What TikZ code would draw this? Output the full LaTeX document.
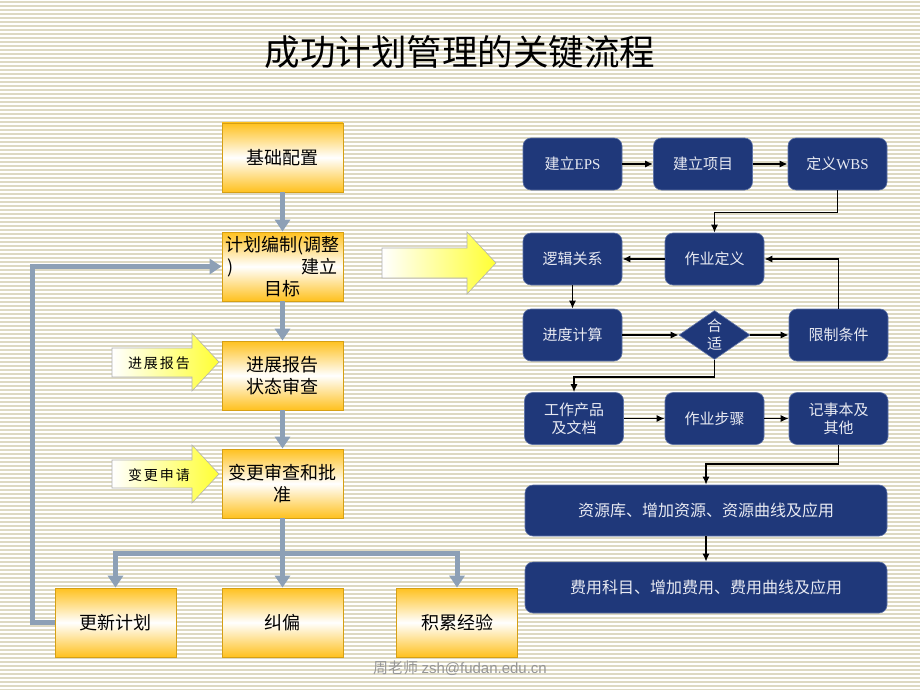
\documentclass[tikz,border=0pt]{standalone}
\usepackage{fontspec}
\setmainfont{Noto Sans CJK SC}
\newfontfamily\latserif{Liberation Serif}
\newfontfamily\latsans{Liberation Sans}
\usetikzlibrary{arrows.meta,shapes.geometric}

\definecolor{stripe}{RGB}{221,217,195}
\definecolor{gold}{RGB}{255,193,30}
\definecolor{goldline}{RGB}{214,160,20}
\definecolor{flowgray}{RGB}{141,160,182}
\definecolor{navy}{RGB}{31,56,122}
\definecolor{navyline}{RGB}{95,115,165}
\definecolor{boxtext}{RGB}{232,234,242}
\definecolor{arrowyellow}{RGB}{255,255,51}
\definecolor{footgray}{RGB}{150,150,150}

\newcommand{\chargap}{\hspace{2pt}}

\begin{document}
\begin{tikzpicture}[x=1pt, y=-1pt,
        goldbox/.style={rectangle, draw=goldline, line width=0.8pt,
            top color=gold, bottom color=gold, middle color=white,
            minimum width=121pt, minimum height=69pt, text width=115pt,
            inner xsep=3pt, align=center, font=\fontsize{18}{22}\selectfont},
        navybox/.style={rectangle, rounded corners=8pt, draw=navyline, line width=0.6pt,
            fill=navy, text=boxtext, minimum width=99pt, minimum height=52pt,
            align=center, font=\fontsize{15}{18}\selectfont},
        widebox/.style={navybox, minimum width=362pt, minimum height=51pt,
            font=\fontsize{16}{18}\selectfont},
        decision/.style={diamond, draw=navyline, line width=0.6pt, fill=navy, text=boxtext,
            minimum width=71pt, minimum height=49pt, inner sep=0pt, aspect=1.45,
            align=center, font=\fontsize{15}{18}\selectfont},
        yarrow/.style={draw=gray!60, line width=0.6pt, left color=white, right color=arrowyellow},
        flow/.style={draw=flowgray, line width=5pt, -{Triangle[length=12pt,width=15pt]}},
        arrow/.style={->, >={Latex[length=8pt,width=7pt]}, line width=1.5pt}
    ]
        \useasboundingbox (0,0) rectangle (920,690);

        % Hintergrund Streifen
        \fill[white] (0,0) rectangle (920,690);
        \foreach \y in {2,6,...,690}
            \draw[stripe, line width=1.5pt] (0,\y) -- (920,\y);

        % Titel
        \node (title) at (460,52) {\fontsize{35.5}{40}\selectfont 成功计划管理的关键流程};

        % Linke Seite
        \node[goldbox] (base) at (282.5,157.5) {基础配置};
        \node[goldbox] (plan) at (282.5,266.5)
            {计划编制(调整\\\makebox[110pt]{)\hfill 建立}\\目标};
        \node[goldbox] (report) at (282.5,375.5) {进展报告\\状态审查};
        \node[goldbox] (change) at (282.5,483.5) {变更审查和批\\准};
        \node[goldbox] (update) at (115.5,622.5) {更新计划};
        \node[goldbox] (correct) at (282.5,622.5) {纠偏};
        \node[goldbox] (lesson) at (457,622.5) {积累经验};

        % Eingangspfeile
        \shade[yarrow] (382,248) -- (467,248) -- (467,232) -- (496,263)
            -- (467,294) -- (467,278) -- (382,278) -- cycle;
        \shade[yarrow] (112,348) -- (192,348) -- (192,333) -- (219,362)
            -- (192,391) -- (192,377) -- (112,377) -- cycle;
        \shade[yarrow] (112,460) -- (192,460) -- (192,445) -- (219,474)
            -- (192,503) -- (192,488) -- (112,488) -- cycle;
        \node[font=\fontsize{14}{16}\selectfont] (reportin) at (159,363)
            {进\chargap 展\chargap 报\chargap 告};
        \node[font=\fontsize{14}{16}\selectfont] (changein) at (159,475)
            {变\chargap 更\chargap 申\chargap 请};

        % Verbindungen links
        \foreach \a/\b in {base/plan, plan/report, report/change, change/correct}
            \draw[flow] (\a.south) -- (\b.north);
        \path (change.south) ++(0,35) coordinate (split);
        \draw[flow] (split) -| (update.north);
        \draw[flow] (split) -| (lesson.north);
        \draw[flow] (update.west) -- ++(-22,0) |- (plan.west);

        % Rechte Seite
        \node[navybox] (eps) at (572.5,164) {建立{\latserif EPS}};
        \node[navybox] (proj) at (703,164) {建立项目};
        \node[navybox] (wbs) at (837.5,164) {定义{\latserif WBS}};
        \node[navybox] (logic) at (572.5,259) {逻辑关系};
        \node[navybox] (actdef) at (714.5,259) {作业定义};
        \node[navybox] (sched) at (572.5,335) {进度计算};
        \node[decision] (fit) at (714.5,335) {合\\适};
        \node[navybox] (limit) at (838.5,335) {限制条件};
        \node[navybox] (product) at (574,418.5) {工作产品\\及文档};
        \node[navybox] (steps) at (714.5,418.5) {作业步骤};
        \node[navybox] (notes) at (838.5,418.5) {记事本及\\其他};
        \node[widebox] (res) at (706,510.5) {资源库、增加资源、资源曲线及应用};
        \node[widebox] (cost) at (706,587.5) {费用科目、增加费用、费用曲线及应用};

        % Verbindungen rechts
        \foreach \a/\b in {eps/proj, proj/wbs, actdef/logic, sched/fit, fit/limit,
                steps/notes, product/steps}
            \draw[arrow] (\a) -- (\b);
        \draw[arrow] (logic) -- (sched);
        \draw[arrow] (res) -- (cost);
        \draw[arrow] (wbs.south) -- ++(0,22) -| (actdef.north);
        \draw[arrow] (limit.north) |- (actdef.east);
        \draw[arrow] (fit.south) -- ++(0,17) -| (product.north);
        \draw[arrow] (notes.south) -- ++(0,19) -| (res.north);

        % Fusszeile
        \node[text=footgray, font=\fontsize{15}{18}\selectfont] (footer) at (460,668)
            {周老师 {\latsans zsh@fudan.edu.cn}};

    \end{tikzpicture}
\end{document}
